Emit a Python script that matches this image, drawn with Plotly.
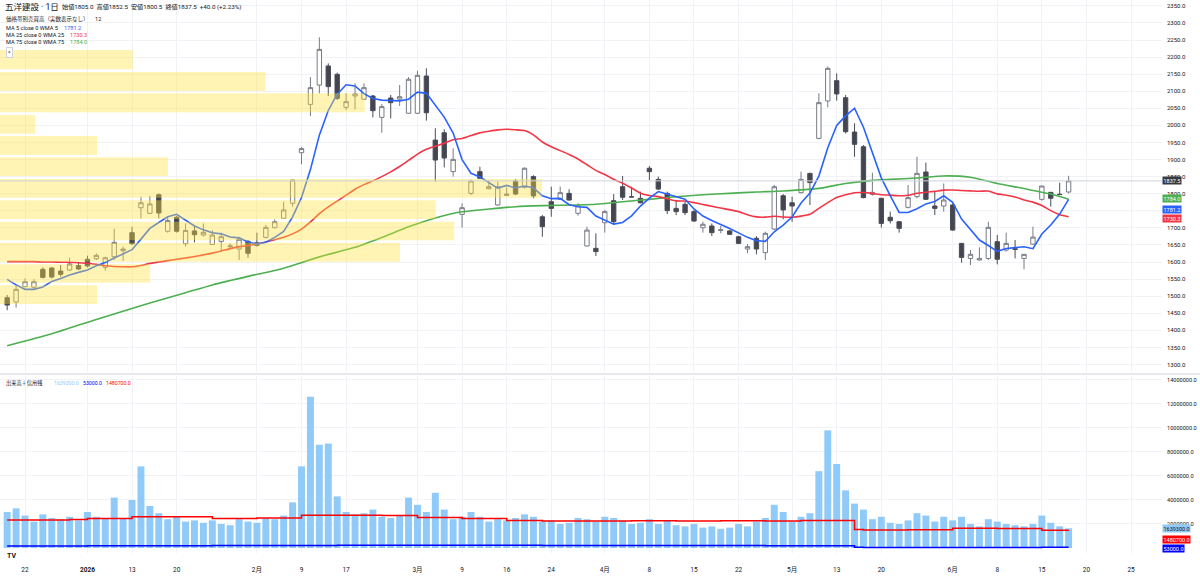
import pandas as pd
import plotly.graph_objects as go

FONT = "Roboto, 'Noto Sans CJK JP', 'Liberation Sans', sans-serif"

# ---------------- calendar ----------------
holidays = ["2025-12-31", "2026-01-01", "2026-01-02", "2026-01-12", "2026-02-11",
            "2026-02-23", "2026-03-20", "2026-04-29", "2026-05-04", "2026-05-05", "2026-05-06"]
trade_dates = [d.strftime("%Y-%m-%d") for d in pd.bdate_range("2025-12-18", "2026-06-18")
               if d.strftime("%Y-%m-%d") not in holidays]
future_dates = [d.strftime("%Y-%m-%d") for d in pd.date_range("2026-06-19", "2026-07-03")]
all_dates = trade_dates + future_dates

# ---------------- OHLC ----------------
opens = [1495.5, 1483, 1528, 1526, 1578.5, 1582.5, 1573.5, 1576.5, 1589.5, 1608,
         1609.5, 1584.5, 1615.5, 1633, 1686, 1759, 1742.5, 1797, 1690, 1731,
         1653.5, 1691, 1679, 1651.5, 1660.5, 1645, 1638, 1660.5, 1656.5, 1672,
         1700.5, 1728, 1772, 1920, 2061.5, 2118, 2174, 2149.5, 2053, 2086,
         2076.5, 2086, 2023.5, 2080, 2077, 2035.5, 2035.5, 2144.5, 1957, 1978.5,
         1864.5, 1739.5, 1801, 1864.5, 1814.5, 1767, 1795, 1837, 1818.5, 1850,
         1732.5, 1776.5, 1783.5, 1801, 1742.5, 1647, 1640, 1715, 1779.5, 1820.5,
         1791, 1786.5, 1874.5, 1842, 1801, 1757, 1769, 1747.5, 1700.5, 1705.5,
         1692.5, 1691, 1674, 1638, 1669.5, 1627.5, 1696.5, 1794, 1773.5, 1803,
         1859.5, 1962, 2071.5, 2131, 2081, 1980.5, 1937.5, 1798, 1786.5, 1731,
         1718, 1760, 1791.5, 1863.5, 1764, 1764, 1767, 1654.5, 1610.5, 1606,
         1610.5, 1659.5, 1635, 1639, 1610.5, 1652.5, 1783.5, 1804, 1798.5, 1805]
highs = [1503.5, 1534.5, 1552, 1549.5, 1584.5, 1584.5, 1591, 1612.5, 1599, 1618.5,
         1625.5, 1615.5, 1697.5, 1645, 1703.5, 1791.5, 1793.5, 1801, 1732.5, 1734.5,
         1713, 1703.5, 1713, 1693.5, 1686, 1654.5, 1674, 1664.5, 1686, 1708.5,
         1725, 1776.5, 1842, 1936.5, 2141.5, 2258, 2181.5, 2154.5, 2094, 2123,
         2123, 2089, 2062.5, 2089, 2118, 2141.5, 2160, 2167, 1991.5, 1988.5,
         1933, 1772, 1842, 1879, 1840, 1835, 1818.5, 1843, 1877, 1854,
         1737.5, 1820.5, 1820.5, 1813, 1772, 1703.5, 1684, 1752.5, 1799, 1852,
         1820.5, 1806, 1881, 1850, 1806, 1781.5, 1776.5, 1752.5, 1718, 1713,
         1705.5, 1693.5, 1677, 1652.5, 1676, 1689, 1825.5, 1799, 1791.5, 1864.5,
         1861.5, 2094, 2172, 2152.5, 2089, 2006, 1942.5, 1861.5, 1788, 1747.5,
         1720, 1825.5, 1908.5, 1891, 1806, 1830, 1772, 1656, 1635, 1643,
         1718, 1679, 1686, 1664.5, 1623, 1703.5, 1823, 1805, 1832, 1852.5]
lows = [1459, 1466.5, 1526, 1520, 1552, 1552, 1557, 1574.5, 1576.5, 1584.5,
        1606, 1574.5, 1606, 1603, 1650, 1728, 1740.5, 1728, 1686, 1686,
        1645, 1657.5, 1674.5, 1650, 1635, 1640, 1606, 1612.5, 1645, 1669.5,
        1698.5, 1728, 1762, 1886, 2027.5, 2094, 2086, 2074.5, 2045, 2047,
        2074.5, 2023.5, 1978.5, 2020.5, 2057, 2033.5, 2033.5, 2014, 1835, 1877,
        1850, 1701, 1796, 1843, 1813, 1765, 1793.5, 1796, 1815.5, 1786.5,
        1674, 1732.5, 1781.5, 1779.5, 1735.5, 1645, 1617.5, 1686, 1708.5, 1781.5,
        1789.5, 1772, 1840, 1811, 1740.5, 1737.5, 1737.5, 1718, 1686, 1676,
        1684, 1679, 1652.5, 1625.5, 1622.5, 1606, 1693.5, 1725, 1718, 1801,
        1767, 1959, 2053, 2072.5, 1976.5, 1908, 1786.5, 1794, 1701, 1713,
        1686, 1757, 1786.5, 1781.5, 1737.5, 1747.5, 1692, 1598, 1591, 1604,
        1606, 1593, 1630.5, 1610.5, 1578.5, 1650, 1779.5, 1762, 1796, 1800.5]
closes = [1474, 1520, 1542.5, 1542.5, 1555, 1556, 1564, 1594, 1579.5, 1588.5,
          1619.5, 1612.5, 1657.5, 1638, 1653.5, 1773.5, 1770, 1743.5, 1721, 1690,
          1692.5, 1680, 1687, 1679, 1674, 1647, 1666.5, 1625.5, 1649, 1701.5,
          1718, 1752.5, 1840, 1932, 2110.5, 2222.5, 2113.5, 2079, 2069.5, 2092,
          2110.5, 2043, 2055, 2066.5, 2084, 2135, 2146.5, 2037, 1898.5, 1904.5,
          1900.5, 1759, 1837, 1845, 1820.5, 1820.5, 1799, 1799, 1874.5, 1793.5,
          1703.5, 1757, 1803, 1781.5, 1765, 1693.5, 1630.5, 1747.5, 1718, 1789.5,
          1790.5, 1773.5, 1864.5, 1813.5, 1750.5, 1747.5, 1744.5, 1720, 1710.5, 1686,
          1694.5, 1681, 1654.5, 1645, 1638, 1684, 1820.5, 1752.5, 1764, 1842,
          1832.5, 2066.5, 2167, 2092, 1981.5, 1944.5, 1788.5, 1804, 1713, 1721,
          1698.5, 1788.5, 1859.5, 1783.5, 1757, 1781.5, 1693.5, 1613.5, 1622.5, 1610.5,
          1701.5, 1608, 1654.5, 1637, 1622.5, 1673, 1822.5, 1786.5, 1797.5, 1837.5]

# volume in millions of shares
volume_m = [3.0, 3.3, 2.7, 2.2, 2.8, 2.5, 2.4, 2.6, 2.3, 3.0,
            2.6, 2.5, 4.2, 2.5, 4.0, 6.8, 3.5, 2.9, 2.4, 2.6,
            2.2, 2.3, 2.1, 2.3, 2.0, 1.9, 2.4, 2.2, 2.1, 2.5,
            2.4, 2.7, 3.8, 6.8, 12.6, 8.6, 8.7, 4.3, 3.0, 2.8,
            2.9, 3.2, 2.6, 2.5, 2.7, 4.2, 3.6, 3.0, 4.6, 3.2,
            2.4, 2.6, 3.0, 2.6, 2.2, 2.4, 2.3, 2.5, 2.8, 2.6,
            2.2, 2.3, 2.0, 2.1, 2.5, 2.4, 2.2, 2.6, 2.5, 2.3,
            2.0, 2.1, 2.4, 2.0, 2.3, 1.9, 1.8, 2.0, 1.7, 1.8,
            1.6, 1.7, 2.0, 1.8, 2.2, 2.5, 3.6, 3.0, 2.2, 2.6,
            2.9, 6.4, 9.8, 7.0, 4.8, 3.7, 3.2, 2.4, 2.6, 2.1,
            2.0, 2.3, 2.9, 2.7, 2.2, 2.6, 2.3, 2.6, 2.0, 1.8,
            2.4, 2.2, 2.0, 1.9, 1.8, 2.0, 2.7, 2.1, 1.8, 1.6393]

# moving averages
ma5_head = [1549, 1533, 1520, 1520]
ma25_head = [1601, 1601, 1601, 1601, 1600, 1600, 1599.5, 1599, 1598, 1596.5,
             1593, 1589, 1587, 1586, 1586, 1590, 1596, 1600, 1604, 1608,
             1612, 1616, 1621, 1626]
ma75_knot_dates = ["2025-12-18", "2025-12-25", "2026-01-06", "2026-01-15", "2026-01-21",
                   "2026-01-26", "2026-01-30", "2026-02-04", "2026-02-06", "2026-02-12",
                   "2026-02-18", "2026-02-24", "2026-02-27", "2026-03-04", "2026-03-09",
                   "2026-03-12", "2026-03-17", "2026-03-23", "2026-03-27", "2026-03-31",
                   "2026-04-03", "2026-04-08", "2026-04-13", "2026-04-16", "2026-04-21",
                   "2026-04-24", "2026-04-30", "2026-05-11", "2026-05-14", "2026-05-19",
                   "2026-05-21", "2026-05-26", "2026-05-29", "2026-06-03", "2026-06-08",
                   "2026-06-11", "2026-06-16", "2026-06-18"]
ma75_knot_values = [1355, 1390, 1432, 1480, 1510, 1533, 1558, 1575, 1590, 1615,
                    1643, 1672, 1703, 1729, 1747, 1755, 1762, 1765, 1767, 1769,
                    1776.5, 1783.5, 1791, 1797, 1801, 1805, 1808, 1815.5, 1830, 1839,
                    1842, 1846, 1852, 1848, 1830, 1815, 1799, 1784]
ma5_last, ma25_last, ma75_last = 1781.2, 1730.3, 1784.0

# margin balances (millions of shares), weekly
margin_dates = ["2025-12-18", "2025-12-22", "2025-12-29", "2026-01-05", "2026-01-13",
                "2026-01-19", "2026-01-26", "2026-02-02", "2026-02-09", "2026-02-16",
                "2026-02-24", "2026-03-02", "2026-03-09", "2026-03-16", "2026-03-23",
                "2026-03-30", "2026-04-06", "2026-04-13", "2026-04-20", "2026-04-27",
                "2026-05-07", "2026-05-11", "2026-05-15", "2026-05-18", "2026-05-25",
                "2026-06-01", "2026-06-08", "2026-06-15", "2026-06-18"]
margin_buy_m = [2.33, 2.33, 2.38, 2.45, 2.6, 2.6, 2.45, 2.5, 2.72, 2.72,
                2.7, 2.55, 2.45, 2.3, 2.25, 2.25, 2.28, 2.25, 2.28, 2.25,
                2.3, 2.3, 1.55, 1.5, 1.52, 1.65, 1.62, 1.48, 1.4807]
margin_sell_m = [0.17, 0.17, 0.17, 0.18, 0.18, 0.18, 0.2, 0.2, 0.2, 0.22,
                 0.22, 0.22, 0.22, 0.22, 0.2, 0.2, 0.2, 0.2, 0.2, 0.18,
                 0.18, 0.18, 0.06, 0.05, 0.05, 0.05, 0.05, 0.053, 0.053]
last_volume, last_sell, last_buy = 1639300.0, 53000.0, 1480700.0

# volume profile (12 rows)
profile_low = [2164.2, 2100.7, 2038.3, 1975.7, 1913.3, 1851.9, 1788.3, 1726.0, 1663.6, 1601.0, 1539.5, 1477.2]
profile_high = [2220.7, 2156.3, 2094.0, 2030.4, 1968.9, 1906.6, 1843.1, 1780.7, 1718.1, 1656.6, 1593.4, 1531.9]
profile_volume = [24.5, 49.0, 67.3, 6.5, 17.9, 31.0, 100.0, 80.4, 83.8, 73.8, 27.7, 17.9]

x_tick_dates = ["2025-12-22", "2026-01-05", "2026-01-13", "2026-01-20", "2026-02-02", "2026-02-09",
                "2026-02-17", "2026-03-02", "2026-03-09", "2026-03-16", "2026-03-24", "2026-04-01",
                "2026-04-08", "2026-04-15", "2026-04-22", "2026-05-01", "2026-05-13", "2026-05-20",
                "2026-06-01", "2026-06-08", "2026-06-15", "2026-06-20", "2026-06-25"]
x_tick_text = ["22", "<b>2026</b>", "13", "20", "2月", "9", "17", "3月", "9", "16", "24", "4月",
               "8", "15", "22", "5月", "13", "20", "6月", "8", "15", "20", "25"]
# 1750.0 is hidden behind the value boxes in the reference
price_ticks = [1300, 1350, 1400, 1450, 1500, 1550, 1600, 1650, 1700, 1800, 1850, 1900,
               1950, 2000, 2050, 2100, 2150, 2200, 2250, 2300, 2350]
price_grid = [1750]
volume_ticks = [2e6, 4e6, 6e6, 8e6, 10e6, 12e6, 14e6]

# ---------------- derived ----------------
close_s = pd.Series(closes)
ma5 = close_s.rolling(5).mean().tolist()
ma5[:4] = ma5_head
ma25 = close_s.rolling(25).mean().tolist()
ma25[:24] = ma25_head
volume = [v * 1e6 for v in volume_m]
margin_buy = [v * 1e6 for v in margin_buy_m]
margin_sell = [v * 1e6 for v in margin_sell_m]
profile_mid = [(a + b) / 2 for a, b in zip(profile_low, profile_high)]
profile_h = [b - a for a, b in zip(profile_low, profile_high)]

# ---------------- figure ----------------
fig = go.Figure()
fig.add_trace(go.Candlestick(
    x=trade_dates, open=opens, high=highs, low=lows, close=closes,
    increasing=dict(line=dict(color="#787b86", width=1), fillcolor="#ffffff"),
    decreasing=dict(line=dict(color="#4a4d57", width=1), fillcolor="#434651"),
    whiskerwidth=0, xaxis="x", yaxis="y", hoverinfo="skip"))
fig.add_trace(go.Scatter(x=ma75_knot_dates, y=ma75_knot_values, mode="lines",
                         line=dict(color="#4caf50", width=1.6, shape="spline", smoothing=0.6),
                         xaxis="x", yaxis="y"))
fig.add_trace(go.Scatter(x=trade_dates, y=ma25, mode="lines",
                         line=dict(color="#f23645", width=1.6, shape="spline", smoothing=0.5),
                         xaxis="x", yaxis="y"))
fig.add_trace(go.Scatter(x=trade_dates, y=ma5, mode="lines",
                         line=dict(color="#2962ff", width=1.6),
                         xaxis="x", yaxis="y"))

# volume pane
fig.add_trace(go.Bar(x=trade_dates, y=volume, marker=dict(color="#90caf9", line=dict(width=0)),
                     xaxis="x", yaxis="y2"))
fig.add_trace(go.Scatter(x=margin_dates, y=margin_buy, mode="lines",
                         line=dict(color="#ff0000", width=1.5, shape="hv"), xaxis="x", yaxis="y2"))
fig.add_trace(go.Scatter(x=margin_dates, y=margin_sell, mode="lines",
                         line=dict(color="#0000ff", width=1.5, shape="hv"), xaxis="x", yaxis="y2"))

# volume profile overlay (drawn above price pane)
fig.add_trace(go.Bar(x=profile_volume, y=profile_mid, width=profile_h, base=0, orientation="h",
                     marker=dict(color="rgba(255,226,55,0.38)", line=dict(width=0)),
                     xaxis="x3", yaxis="y", hoverinfo="skip"))

W, H = 1162.0, 553.0
def pxx(x):
    return x / W
def pxy(y):
    return 1 - y / H

grid = "#f0f2f6"
fig.update_layout(
    width=1200, height=580,
    margin=dict(l=0, r=38, t=0, b=27, autoexpand=False),
    paper_bgcolor="white", plot_bgcolor="white",
    showlegend=False, bargap=0.22,
    font=dict(family=FONT, size=6, color="#131722"),
    xaxis=dict(type="category", categoryorder="array", categoryarray=all_dates,
               range=[-0.803, 129.47], tickvals=x_tick_dates, ticktext=x_tick_text,
               showgrid=True, gridcolor=grid, gridwidth=1, zeroline=False, showline=False,
               ticks="", tickfont=dict(size=6.5, color="#131722"), anchor="y2",
               rangeslider=dict(visible=False), ticklabelstandoff=11),
    xaxis3=dict(overlaying="x", range=[0, 214.4], visible=False, anchor="y"),
    yaxis=dict(domain=[1 - 372 / H, 1], range=[1278, 2367.1], side="right",
               tickvals=price_ticks, tickformat=".1f", showgrid=True, gridcolor=grid,
               zeroline=False, showline=False, ticks="", tickfont=dict(size=6, color="#131722"),
               anchor="x", ticklabelstandoff=4),
    yaxis2=dict(domain=[0, 1 - 376 / H], range=[-0.417e6, 14.33e6], side="right",
                tickvals=volume_ticks, tickformat=".1f", showgrid=True, gridcolor=grid,
                zeroline=False, showline=False, ticks="", tickfont=dict(size=5.6, color="#131722"),
                anchor="x", ticklabelstandoff=4),
)

shapes = [
    dict(type="line", xref="paper", yref="y", x0=0, x1=1, y0=closes[-1], y1=closes[-1],
         line=dict(color="#cfd2d9", width=1)),
    dict(type="line", xref="paper", yref="paper", x0=0, x1=1.04, y0=pxy(374), y1=pxy(374),
         line=dict(color="#e6e8ee", width=2)),
]
for g in price_grid:
    shapes.append(dict(type="line", xref="paper", yref="y", x0=0, x1=1, y0=g, y1=g,
                       line=dict(color=grid, width=1), layer="below"))
fig.update_layout(shapes=shapes)

anns = []
def ann(x, y, text, size=6, color="#131722", **kw):
    d = dict(xref="paper", yref="paper", x=pxx(x), y=pxy(y), text=text, showarrow=False,
             xanchor="left", yanchor="middle", font=dict(size=size, color=color, family=FONT))
    d.update(kw)
    anns.append(d)

ann(3, 7.5, "五洋建設 · 1日", size=8.5)
chg = closes[-1] - closes[-2]
ann(60, 7.5, "始値%.1f  高値%.1f  安値%.1f  終値%.1f  %+.1f (%+.2f%%)" % (
    opens[-1], highs[-1], lows[-1], closes[-1], chg, chg / closes[-2] * 100), size=6.2)
ann(4, 19, "価格帯別売買高（実数表示なし）", size=5.5)
ann(93, 19, "12", size=5.6)
ann(4, 27.5, "MA 5 close 0 WMA 5", size=5.6)
ann(62, 27.5, "%.1f" % ma5_last, size=5.6, color="#2962ff")
ann(4, 35, "MA 25 close 0 WMA 25", size=5.6)
ann(68, 35, "%.1f" % ma25_last, size=5.6, color="#f23645")
ann(4, 42.5, "MA 75 close 0 WMA 75", size=5.6)
ann(68, 42.5, "%.1f" % ma75_last, size=5.6, color="#4caf50")
ann(6, 53, "^", size=6, bgcolor="white", bordercolor="#d1d4dc", borderwidth=1, borderpad=1)

ann(4, 383, "出来高＋信用残", size=5.2)
ann(52, 383, "%.1f" % last_volume, size=5.2, color="#90caf9")
ann(81, 383, "%.1f" % last_sell, size=5.2, color="#0000ff")
ann(104, 383, "%.1f" % last_buy, size=5.2, color="#ff0000")
ann(5, 556, "<b>TV</b>", size=7)

def rlabel(val, yref, bg, fg, shift=0):
    anns.append(dict(xref="paper", yref=yref, x=1.0, y=val, text="%.1f" % val, showarrow=False,
                     xanchor="left", yanchor="middle", yshift=shift,
                     font=dict(size=5.5, color=fg, family=FONT), bgcolor=bg, borderpad=0.5))

rlabel(closes[-1], "y", "#363a45", "white")
rlabel(ma75_last, "y", "#4caf50", "white", shift=1)
rlabel(ma5_last, "y", "#2962ff", "white", shift=-9)
rlabel(ma25_last, "y", "#f23645", "white", shift=-1)
rlabel(last_volume, "y2", "#90caf9", "#131722")
rlabel(last_buy, "y2", "#ff0000", "white", shift=-9)
rlabel(last_sell, "y2", "#0000ff", "white", shift=-1.5)

fig.update_layout(annotations=anns)
fig.write_html("out.html", config={"displayModeBar": False},
               post_script="document.body.style.margin='0px';")
